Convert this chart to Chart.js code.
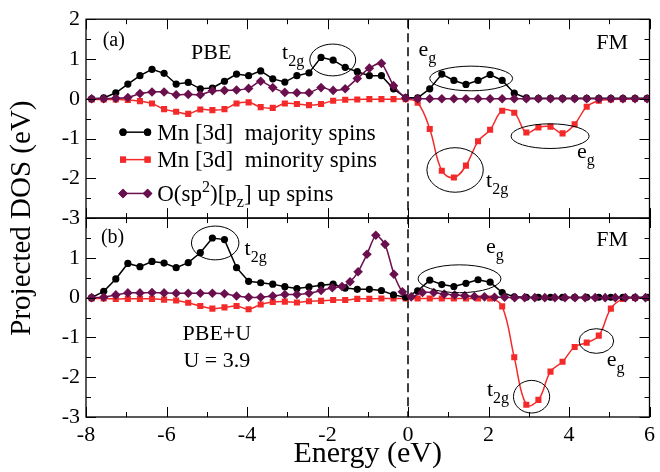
<!DOCTYPE html>
<html><head><meta charset="utf-8">
<script src="https://cdn.jsdelivr.net/npm/chart.js@4.4.1/dist/chart.umd.min.js"></script>
<style>html,body{margin:0;padding:0;background:#fff;}canvas{display:block;}
#probe{position:absolute;left:-1000px;top:0;font-family:"Liberation Serif";font-size:20px;}</style>
</head><body>
<canvas id="c" width="660" height="472"></canvas>
<div id="probe">Projected DOS (eV) 0123</div>
<script>
// ---------- data ----------
const energy = [-7.86,-7.56,-7.26,-6.96,-6.66,-6.36,-6.06,-5.76,-5.46,-5.16,
  -4.86,-4.56,-4.26,-3.96,-3.66,-3.36,-3.06,-2.76,-2.46,-2.16,
  -1.86,-1.56,-1.26,-0.96,-0.66,-0.36,-0.06,0.24,0.54,0.84,
  1.14,1.44,1.74,2.04,2.34,2.64,2.94,3.24,3.54,3.84,
  4.14,4.44,4.74,5.04,5.34,5.64,5.94];

// panel (a) PBE
const topMajority = [0.00,0.02,0.15,0.37,0.58,0.74,0.64,0.37,0.41,0.25,
  0.27,0.44,0.62,0.58,0.70,0.50,0.42,0.58,0.65,1.04,
  0.97,0.79,0.68,0.58,0.58,0.25,0.03,0.02,0.25,0.62,
  0.46,0.36,0.46,0.61,0.46,0.14,0.02,0.01,0.01,0.01,
  0.01,0.01,0.01,0.01,0.01,0.01,0.01];
const topMinority = [-0.02,-0.02,-0.02,-0.03,-0.06,-0.12,-0.26,-0.325,-0.38,-0.27,
  -0.285,-0.26,-0.12,-0.09,-0.21,-0.23,-0.12,-0.13,-0.16,-0.13,
  -0.05,-0.025,-0.02,-0.01,-0.01,-0.01,-0.01,-0.10,-0.76,-1.81,
  -1.98,-1.68,-1.07,-0.78,-0.30,-0.35,-0.85,-0.72,-0.70,-0.87,
  -0.64,-0.20,-0.05,-0.02,-0.01,0.00,0.00];
const topOxygen = [0.00,0.00,0.01,0.03,0.13,0.17,0.17,0.10,0.11,0.10,
  0.20,0.21,0.22,0.26,0.44,0.28,0.16,0.15,0.15,0.28,
  0.21,0.25,0.51,0.77,0.89,0.33,0.02,0.00,0.00,0.00,
  0.00,0.00,0.00,0.00,0.00,0.00,0.00,0.00,0.00,0.00,
  0.00,0.00,0.00,0.00,0.00,0.00,0.00];

// panel (b) PBE+U
const botMajority = [0.00,0.16,0.47,0.86,0.78,0.91,0.87,0.755,0.88,1.13,
  1.50,1.46,0.755,0.41,0.375,0.34,0.275,0.23,0.27,0.31,
  0.34,0.24,0.21,0.21,0.18,0.07,0.01,0.17,0.44,0.33,
  0.28,0.36,0.45,0.39,0.13,0.02,0.01,0.01,0.01,0.01,
  0.01,0.01,0.01,0.01,0.01,0.01,0.01];
const botMinority = [-0.02,-0.02,-0.03,-0.03,-0.03,-0.03,-0.05,-0.07,-0.13,-0.21,
  -0.275,-0.245,-0.21,-0.29,-0.17,-0.11,-0.10,-0.12,-0.09,-0.08,
  -0.06,-0.06,-0.03,-0.03,-0.02,-0.02,-0.02,-0.02,-0.02,-0.02,
  -0.02,-0.02,-0.02,-0.02,-0.22,-1.50,-2.69,-2.57,-1.86,-1.61,
  -1.24,-1.13,-0.955,-0.275,-0.03,-0.01,0.00];
const botOxygenEnergy = [-7.86,-7.56,-7.26,-6.96,-6.66,-6.36,-6.06,-5.76,-5.46,-5.16,
  -4.86,-4.56,-4.26,-3.96,-3.66,-3.36,-3.06,-2.76,-2.46,-2.16,
  -1.88,-1.64,-1.44,-1.24,-1.02,-0.80,-0.57,-0.35,-0.14,0.08,
  0.36,0.64,0.90,1.16,1.41,1.65,1.90,2.15,2.40,2.65,
  2.90,3.15,3.40,3.65,3.90,4.15,4.40,4.65,4.90,5.15,
  5.40,5.65,5.90];
const botOxygen = [0.00,0.01,0.07,0.12,0.12,0.13,0.12,0.11,0.11,0.11,
  0.11,0.10,0.04,0.01,0.01,0.04,0.08,0.08,0.11,0.18,
  0.25,0.28,0.40,0.65,1.09,1.57,1.34,0.59,0.15,0.02,
  0.13,0.13,0.09,0.07,0.05,0.03,0.02,0.01,0.01,0.00,
  0.00,0.00,0.00,0.00,0.00,0.00,0.00,0.00,0.00,0.00,
  0.00,0.00,0.00];

const xTickLabels = [-8,-6,-4,-2,0,2,4,6];
const yTickLabels = [-3,-2,-1,0,1,2];
const seriesNames = ['Mn [3d]  majority spins','Mn [3d]  minority spins','O(sp2)[pz] up spins'];

// ---------- styles ----------
const SERIF = '"Liberation Serif","Times New Roman",Times,"DejaVu Serif",serif';
const BLACK = '#000000', RED = '#f42a2a', PURPLE = '#6a0f4e';
const styleMaj = {borderColor:BLACK, backgroundColor:BLACK, pointStyle:'circle', pointRadius:3.6, tension:0, order:2};
const styleMin = {borderColor:RED, backgroundColor:RED, pointStyle:'rect', pointRadius:4.3, tension:0.4, order:3};
const styleOxy = {borderColor:PURPLE, backgroundColor:PURPLE, pointStyle:'rectRot', pointRadius:4.8, tension:0.2, order:1};

const pts = (xs, ys) => xs.map((x, i) => ({x: x, y: ys[i]}));
function ds(label, data, axis, st){
  return Object.assign({label: label, data: data, yAxisID: axis, showLine: true,
    borderWidth: 1.5, pointBorderWidth: 0, pointHoverRadius: 0}, st);
}

// ---------- annotations (data coordinates) ----------
const texts = [
  {ax:'yTop', x:-7.31, y:1.45, t:'(a)', size:20, align:'center', base:'middle'},
  {ax:'yTop', x:-4.89, y:1.15, t:'PBE', size:22, align:'center', base:'middle'},
  {ax:'yTop', x:-3.13, y:1.00, t:'t', sub:'2g', size:22},
  {ax:'yTop', x:5.07, y:1.40, t:'FM', size:22, align:'center', base:'middle'},
  {ax:'yTop', x:0.26, y:1.075, t:'e', sub:'g', size:22},
  {ax:'yTop', x:1.94, y:-2.22, t:'t', sub:'2g', size:22},
  {ax:'yTop', x:4.20, y:-1.50, t:'e', sub:'g', size:22},
  {ax:'yBot', x:-7.34, y:1.50, t:'(b)', size:20, align:'center', base:'middle'},
  {ax:'yBot', x:-4.06, y:1.075, t:'t', sub:'2g', size:22},
  {ax:'yBot', x:-4.75, y:-0.925, t:'PBE+U', size:22, align:'center', base:'middle'},
  {ax:'yBot', x:-4.75, y:-1.60, t:'U = 3.9', size:22, align:'center', base:'middle'},
  {ax:'yBot', x:5.07, y:1.45, t:'FM', size:22, align:'center', base:'middle'},
  {ax:'yBot', x:1.94, y:1.125, t:'e', sub:'g', size:22},
  {ax:'yBot', x:1.96, y:-2.48, t:'t', sub:'2g', size:22},
  {ax:'yBot', x:4.94, y:-1.73, t:'e', sub:'g', size:22}
];
const ellipses = [
  {ax:'yTop', x:-1.87, y:0.975, rx:0.57, ry:0.40},
  {ax:'yTop', x:1.57, y:0.51, rx:1.03, ry:0.31},
  {ax:'yTop', x:1.17, y:-1.79, rx:0.70, ry:0.56},
  {ax:'yTop', x:3.53, y:-0.94, rx:0.97, ry:0.31},
  {ax:'yBot', x:-4.79, y:1.375, rx:0.59, ry:0.425},
  {ax:'yBot', x:1.28, y:0.475, rx:1.03, ry:0.35},
  {ax:'yBot', x:3.07, y:-2.49, rx:0.45, ry:0.41},
  {ax:'yBot', x:4.68, y:-1.09, rx:0.43, ry:0.31}
];
const legendRows = [
  {y:-0.84, st:styleMaj, segs:[{t:'Mn [3d]  majority spins'}]},
  {y:-1.53, st:styleMin, segs:[{t:'Mn [3d]  minority spins'}]},
  {y:-2.38, st:styleOxy, segs:[{t:'O(sp'},{t:'2',k:0.7,dy:-0.38},{t:')[p'},{t:'z',k:0.7,dy:0.28},{t:'] up spins'}]}
];
const legendX = {x0:-7.08, x1:-6.47, text:-6.23};

const decor = {
  id:'decor',
  beforeDatasetsDraw(chart){
    const ctx = chart.ctx, xs = chart.scales.x, ca = chart.chartArea;
    const px0 = xs.getPixelForValue(0);
    ctx.save();
    ctx.strokeStyle = BLACK; ctx.lineWidth = 1.5; ctx.setLineDash([9,5]);
    ctx.beginPath(); ctx.moveTo(px0, ca.top); ctx.lineTo(px0, ca.bottom); ctx.stroke();
    ctx.restore();
  },
  afterDatasetsDraw(chart){
    const ctx = chart.ctx, xs = chart.scales.x, ca = chart.chartArea;
    ctx.save();
    ctx.fillStyle = BLACK; ctx.strokeStyle = BLACK;
    ['yTop','yBot'].forEach(id => {
      const ys = chart.scales[id];
      const T = ys.top, B = ys.bottom, L = ca.left, R = ca.right;
      ctx.lineWidth = 1.3;
      ctx.strokeRect(L, T, R - L, B - T);
      ctx.lineWidth = 1;
      ctx.beginPath();
      for (let v = xs.min; v <= xs.max; v += 1) {
        const p = Math.round(xs.getPixelForValue(v)) + 0.5;
        const len = (v % 2 === 0) ? 10 : 5;
        ctx.moveTo(p, B); ctx.lineTo(p, B - len);
        ctx.moveTo(p, T); ctx.lineTo(p, T + len);
      }
      for (let v = ys.min; v <= ys.max; v += 0.5) {
        const p = Math.round(ys.getPixelForValue(v)) + 0.5;
        const len = (Number.isInteger(v)) ? 10 : 5;
        ctx.moveTo(L, p); ctx.lineTo(L + len, p);
        ctx.moveTo(R, p); ctx.lineTo(R - len, p);
      }
      ctx.stroke();
    });
    ctx.lineWidth = 1;
    ellipses.forEach(e => {
      const ys = chart.scales[e.ax];
      const cx = xs.getPixelForValue(e.x), cy = ys.getPixelForValue(e.y);
      const rx = Math.abs(xs.getPixelForValue(e.x + e.rx) - cx);
      const ry = Math.abs(ys.getPixelForValue(e.y + e.ry) - cy);
      ctx.beginPath(); ctx.ellipse(cx, cy, rx, ry, 0, 0, Math.PI * 2); ctx.stroke();
    });
    texts.forEach(a => {
      const ys = chart.scales[a.ax];
      const px = xs.getPixelForValue(a.x), py = ys.getPixelForValue(a.y);
      ctx.font = a.size + 'px ' + SERIF;
      ctx.textAlign = a.align || 'left';
      ctx.textBaseline = a.base || 'alphabetic';
      ctx.fillText(a.t, px, py);
      if (a.sub) {
        const w = ctx.measureText(a.t).width;
        ctx.font = Math.round(a.size * 0.72) + 'px ' + SERIF;
        ctx.textAlign = 'left';
        ctx.fillText(a.sub, px + w, py + 7);
      }
    });
    const yt = chart.scales.yTop;
    legendRows.forEach(r => {
      const py = yt.getPixelForValue(r.y);
      const x0 = xs.getPixelForValue(legendX.x0), x1 = xs.getPixelForValue(legendX.x1);
      ctx.strokeStyle = r.st.borderColor; ctx.lineWidth = 1.5;
      ctx.beginPath(); ctx.moveTo(x0, py); ctx.lineTo(x1, py); ctx.stroke();
      [x0, x1].forEach(xx => {
        ctx.fillStyle = r.st.backgroundColor;
        Chart.helpers.drawPoint(ctx, {pointStyle:r.st.pointStyle, radius:r.st.pointRadius, rotation:0, borderWidth:0}, xx, py);
        ctx.fill();
      });
      ctx.fillStyle = BLACK; ctx.textAlign = 'left'; ctx.textBaseline = 'alphabetic';
      let cx = xs.getPixelForValue(legendX.text);
      const size = 23;
      r.segs.forEach(s => {
        const k = s.k || 1;
        ctx.font = (size * k) + 'px ' + SERIF;
        ctx.fillText(s.t, cx, py + 7.5 + (s.dy || 0) * size);
        cx += ctx.measureText(s.t).width;
      });
    });
    ctx.save();
    ctx.translate(22, (ca.top + ca.bottom) / 2);
    ctx.rotate(-Math.PI / 2);
    ctx.font = '29px ' + SERIF; ctx.textAlign = 'center'; ctx.textBaseline = 'middle';
    ctx.fillStyle = BLACK;
    ctx.fillText('Projected DOS (eV)', 0, 0);
    ctx.restore();
    ctx.restore();
  }
};

const tickFont = {family: SERIF, size: 22};
function yScale(hideTop){
  return {
    type:'linear', position:'left', stack:'panels', stackWeight:1,
    min: yTickLabels[0], max: yTickLabels[yTickLabels.length - 1],
    afterBuildTicks: s => { s.ticks = yTickLabels.map(v => ({value: v})); },
    afterFit: s => { s.width = 86; },
    grid:{display:false, drawTicks:false}, border:{display:false},
    ticks:{font:tickFont, color:BLACK, padding:6, autoSkip:false,
      callback: v => (hideTop && v === 2) ? '' : String(v)}
  };
}

function build(){
  new Chart(document.getElementById('c'), {
    type:'scatter',
    data:{datasets:[
      ds(seriesNames[0], pts(energy, topMajority), 'yTop', styleMaj),
      ds(seriesNames[1], pts(energy, topMinority), 'yTop', styleMin),
      ds(seriesNames[2], pts(energy, topOxygen), 'yTop', styleOxy),
      ds(seriesNames[0], pts(energy, botMajority), 'yBot', styleMaj),
      ds(seriesNames[1], pts(energy, botMinority), 'yBot', styleMin),
      ds(seriesNames[2], pts(botOxygenEnergy, botOxygen), 'yBot', styleOxy)
    ]},
    options:{
      responsive:false, animation:false, events:[],
      layout:{padding:{left:0, right:5, top:18, bottom:0}},
      scales:{
        x:{type:'linear', position:'bottom',
          min: xTickLabels[0], max: xTickLabels[xTickLabels.length - 1],
          afterBuildTicks: s => { s.ticks = xTickLabels.map(v => ({value: v})); },
          afterFit: s => { s.height = 55; },
          grid:{display:false, drawTicks:false}, border:{display:false},
          ticks:{font:tickFont, color:BLACK, padding:5, maxRotation:0, autoSkip:false},
          title:{display:true, text:'Energy (eV)', color:BLACK, font:{family:SERIF, size:30}, padding:{top:0, bottom:0}}
        },
        // left boxes are stacked with the last defined on top
        yBot: yScale(true),
        yTop: yScale(false)
      },
      plugins:{legend:{display:false}, tooltip:{enabled:false}}
    },
    plugins:[decor]
  });
}
Promise.all([
  document.fonts.load('22px "Liberation Serif"'),
  document.fonts.load('22px "Times New Roman"')
]).catch(()=>{}).then(build);
</script>
</body></html>
